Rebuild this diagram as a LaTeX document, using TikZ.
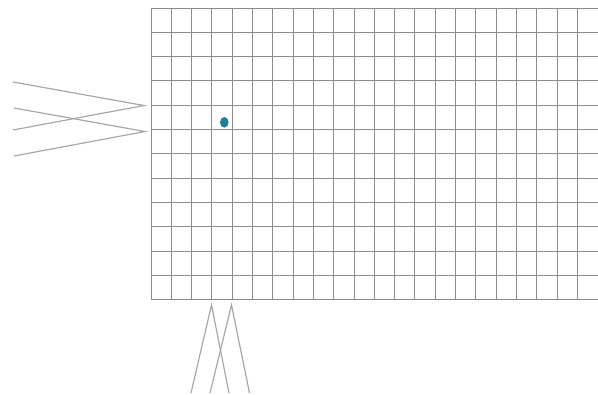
\documentclass[tikz,border=0pt]{standalone}
\usetikzlibrary{positioning}
\definecolor{gridgray}{HTML}{8C8C8C}
\definecolor{wiregray}{HTML}{A8A8A8}
\definecolor{dotteal}{HTML}{1F7F96}

\begin{document}
\begin{tikzpicture}[
    x=0.75pt, y=-0.75pt,
    cell/.style={draw=gridgray, line width=0.75pt},
    wire/.style={draw=wiregray, line width=0.9pt},
    marker/.style={fill=dotteal, draw=none}
]
\useasboundingbox (0,0) rectangle (598,394);
% grid (runs on past the right edge)
\foreach \i in {0,...,21}
  \draw[cell] (151+20.3*\i,8) -- (151+20.3*\i,300);
\foreach \j in {0,...,12}
  \draw[cell] (151,8+24.33*\j) -- (598,8+24.33*\j);
% marker
\fill[marker] (224.3,122.3) ellipse (4.3 and 5.3);
% left crossed lines
\coordinate (apexA) at (144,105.5);
\coordinate (apexB) at (145,131.5);
\draw[wire] (13,82) -- (apexA) -- (13,130);
\draw[wire] (14,108) -- (apexB) -- (14,156);
% bottom crossed lines
\coordinate (apexC) at (211.5,305);
\coordinate (apexD) at (231.5,305);
\draw[wire] (191,393) -- (apexC) -- (229,393);
\draw[wire] (210,393) -- (apexD) -- (249.5,393);
\end{tikzpicture}
\end{document}
